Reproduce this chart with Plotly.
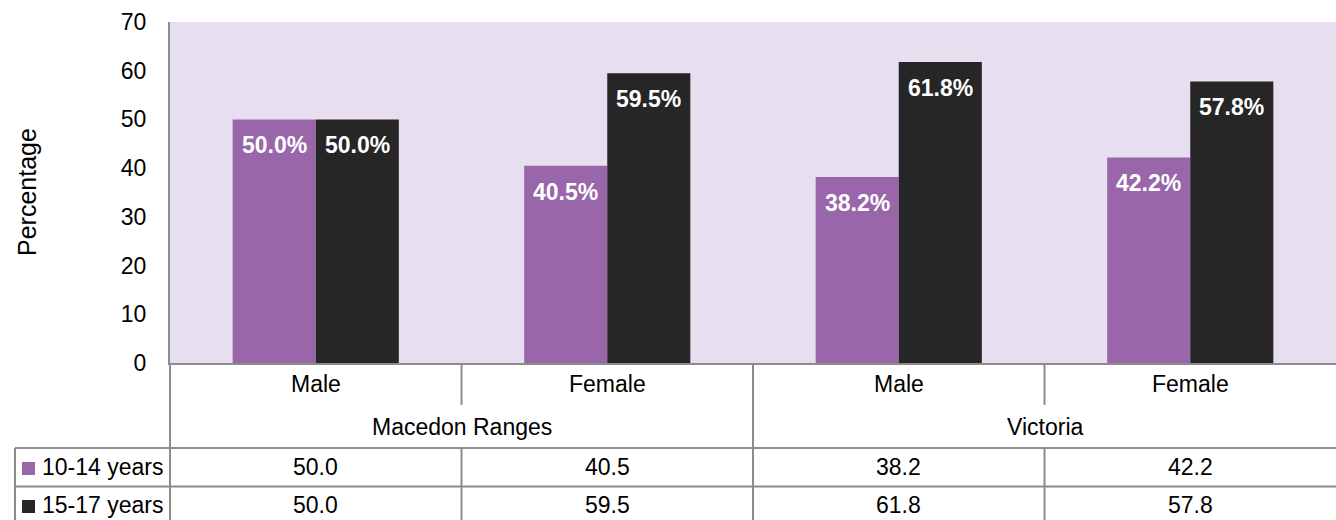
import plotly.graph_objects as go

# ---- data ----
categories = ["Male", "Female", "Male", "Female"]
groups = ["Macedon Ranges", "Victoria"]
series_names = ["10-14 years", "15-17 years"]
values_10_14 = [50.0, 40.5, 38.2, 42.2]
values_15_17 = [50.0, 59.5, 61.8, 57.8]
y_ticks = [0, 10, 20, 30, 40, 50, 60, 70]

# ---- style ----
W, H = 1336, 520
L, R, T, B = 170, 0, 22, 157
PW, PH = W - L - R, H - T - B
FONT = "Liberation Sans, Arial, sans-serif"
PURPLE = "#9966AA"
DARK = "#262626"
BG = "#E7DFEF"
LINE = "#8C8C8C"
BARGAP = 0.43
FS = 23

def xp(px):
    return (px - L) / PW

def yp(py):
    return (H - B - py) / PH

n = len(categories)
x_idx = list(range(n))
series = [values_10_14, values_15_17]
colors = [PURPLE, DARK]

fig = go.Figure()
for name, vals, col in zip(series_names, series, colors):
    fig.add_trace(go.Bar(x=x_idx, y=vals, name=name, marker_color=col,
                         marker_line_width=0, showlegend=False, hoverinfo="skip"))

annotations = []
shapes = []
off = (1 - BARGAP) / 4
for s, vals in enumerate(series):
    for i, v in enumerate(vals):
        annotations.append(dict(x=i + (-off if s == 0 else off), y=v, xref="x", yref="y",
                                xanchor="center", yanchor="middle",
                                text=f"<b>{v:.1f}%</b>", showarrow=False, yshift=-26,
                                font=dict(family=FONT, size=23, color="white")))

txt = dict(showarrow=False, xanchor="center", yanchor="middle",
           font=dict(family=FONT, size=FS, color="black"))

# table: category row
for i, c in enumerate(categories):
    annotations.append(dict(x=i, y=yp(384), xref="x", yref="paper", text=c, **txt))
# group row
per = n // len(groups)
for g, gname in enumerate(groups):
    annotations.append(dict(x=g * per + (per - 1) / 2, y=yp(427), xref="x", yref="paper",
                            text=gname, **txt))
# value rows
row_y = [467, 505]
for s, vals in enumerate(series):
    for i, v in enumerate(vals):
        annotations.append(dict(x=i, y=yp(row_y[s]), xref="x", yref="paper",
                                text=f"{v:.1f}", **txt))
    # legend cell
    annotations.append(dict(x=xp(40), y=yp(row_y[s]), xref="paper", yref="paper",
                            text=series_names[s], showarrow=False, xanchor="left",
                            yanchor="middle", font=dict(family=FONT, size=FS, color="black")))
    shapes.append(dict(type="rect", xref="paper", yref="paper",
                       x0=xp(22), x1=xp(35), y0=yp(row_y[s] - 5), y1=yp(row_y[s] + 8),
                       fillcolor=colors[s], line_width=0))

# y axis title
annotations.append(dict(x=xp(27), y=yp(192), xref="paper", yref="paper", text="Percentage",
                        textangle=-90, showarrow=False, xanchor="center", yanchor="middle",
                        font=dict(family=FONT, size=25, color="black")))

def vline(xpaper, y0px, y1px):
    shapes.append(dict(type="line", xref="paper", yref="paper", x0=xpaper, x1=xpaper,
                       y0=yp(y0px), y1=yp(y1px), line=dict(color=LINE, width=2)))

def hline(x0px, x1px, ypx):
    shapes.append(dict(type="line", xref="paper", yref="paper", x0=xp(x0px), x1=xp(x1px),
                       y0=yp(ypx), y1=yp(ypx), line=dict(color=LINE, width=2)))

for i in range(1, n):
    xb = i / n
    if i % per == 0:
        vline(xb, 363, 522)
    else:
        vline(xb, 363, 405)
        vline(xb, 448, 522)
vline(0, 363, 522)
vline(xp(15), 448, 522)
hline(15, W, 448)
hline(15, W, 486.5)

fig.update_layout(
    width=W, height=H,
    margin=dict(l=L, r=R, t=T, b=B, pad=0),
    paper_bgcolor="white", plot_bgcolor=BG,
    barmode="group", bargap=BARGAP, bargroupgap=0,
    font=dict(family=FONT, size=FS, color="black"),
    xaxis=dict(range=[-0.5, n - 0.5], showticklabels=False, ticks="", showgrid=False,
               zeroline=False, showline=True, linecolor=LINE, linewidth=2, fixedrange=True),
    yaxis=dict(range=[0, 70], tickvals=y_ticks, showgrid=False, zeroline=False,
               showline=True, linecolor=LINE, linewidth=2, ticks="",
               ticklabelstandoff=17, tickfont=dict(family=FONT, size=FS, color="black"),
               fixedrange=True),
    annotations=annotations,
    shapes=shapes,
)

fig.write_html("out.html", config={"displayModeBar": False},
               post_script="document.body.style.margin='0';")
